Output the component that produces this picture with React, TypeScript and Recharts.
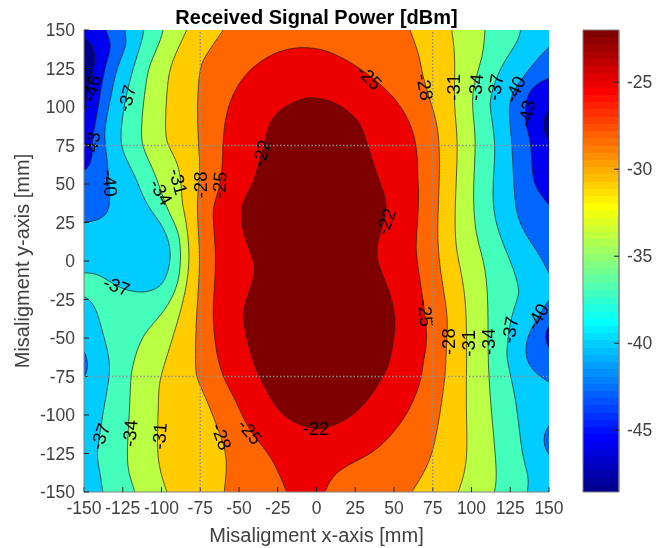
import React from 'react';
import { ComposedChart, Scatter, XAxis, YAxis, ReferenceLine, ReferenceArea, Curve } from 'recharts';

type Pt = [number, number];

const axisTicks = [-150, -125, -100, -75, -50, -25, 0, 25, 50, 75, 100, 125, 150];
const gridLines = [-75, 75];
const colorbarTicks = [-45, -40, -35, -30, -25];
const colorbarMin = -48.55;
const colorbarMax = -22;

// MATLAB jet, bottom of the colorbar to the top
const jetColors = [
	'#00008f', '#00009f', '#0000af', '#0000bf', '#0000cf', '#0000df', '#0000ef', '#0000ff',
	'#0010ff', '#0020ff', '#0030ff', '#0040ff', '#0050ff', '#0060ff', '#0070ff', '#0080ff',
	'#008fff', '#009fff', '#00afff', '#00bfff', '#00cfff', '#00dfff', '#00efff', '#00ffff',
	'#10ffef', '#20ffdf', '#30ffcf', '#40ffbf', '#50ffaf', '#60ff9f', '#70ff8f', '#80ff80',
	'#8fff70', '#9fff60', '#afff50', '#bfff40', '#cfff30', '#dfff20', '#efff10', '#ffff00',
	'#ffef00', '#ffdf00', '#ffcf00', '#ffbf00', '#ffaf00', '#ff9f00', '#ff8f00', '#ff8000',
	'#ff7000', '#ff6000', '#ff5000', '#ff4000', '#ff3000', '#ff2000', '#ff1000', '#ff0000',
	'#ef0000', '#df0000', '#cf0000', '#bf0000', '#af0000', '#9f0000', '#8f0000', '#800000',
];

// contour regions in mm, they run well past the axes and get clipped there
const below43: Pt[] = [[-180, -180], [180, -180], [180, 180], [-180, 180]];
const below46Left: Pt[] = [[-180, 150], [-156, 147], [-150, 145.7], [-143, 139], [-143, 128.4], [-145, 118.6], [-148.7, 104.5], [-150, 94.8], [-156, 94], [-180, 92]];
const below46Right: Pt[] = [[180, 104], [156, 101], [149.8, 99.2], [144.8, 89.4], [149.8, 76.4], [156, 75], [180, 72]];

const above43: Pt[] = [
	[-136, 180], [-136, 156], [-136.4, 150], [-132.1, 141.4], [-134.3, 132.7], [-137.5, 121.9], [-140.7, 100.2], [-144, 82.9], [-145, 74.3], [-145, 63.4], [-150, 58], [-156, 57], [-180, 55],
	[-180, -180], [180, -180], [180, 32], [156, 34], [149.8, 35.7], [144.2, 43.9], [138.8, 52.6], [138.8, 78.6], [134.5, 87.2], [134.5, 106.7], [142, 115.4], [149.8, 118.6], [156, 121], [180, 124], [180, 180],
];
const above40: Pt[] = [
	[-123, 180], [-123, 156], [-124, 150], [-122, 141.4], [-126.7, 130.5], [-130, 120.8], [-132.1, 108.9], [-136.4, 89.4], [-136.9, 78.6], [-134.7, 63.4], [-133.6, 47.2], [-133.2, 37.4], [-135.3, 29.9], [-141.8, 26.2], [-150, 25.1], [-156, 25], [-180, 25],
	[-180, -180], [180, -180], [180, -16], [156, -12], [149.8, -9.1], [146.3, 0.7], [135.6, 15.8], [129.1, 28.8], [127.4, 46.1], [125.9, 82.9], [122.7, 104.6], [133.4, 119.7], [142, 130.5], [149.8, 139.2], [156, 143], [180, 150], [180, 180],
];
const pocketRightUpper: Pt[] = [[180, -20], [156, -22], [149.8, -24.2], [142, -38.3], [135.6, -49.1], [134.5, -62.1], [138.8, -70.8], [149.8, -79], [156, -81], [180, -84]];
const pocketRightDeep: Pt[] = [[180, -38], [156, -39], [149.8, -40.5], [147, -49.1], [149.8, -57.8], [156, -59], [180, -60]];
const pocketRightLower: Pt[] = [[180, -102], [156, -104], [149.8, -105.4], [145.3, -116.2], [149.8, -127], [156, -129], [180, -131]];
const pocketLeft: Pt[] = [[-180, -54], [-156, -55.5], [-150, -56.7], [-147.2, -66.5], [-148.2, -71.9], [-150, -76.2], [-156, -77], [-180, -79]];

const above37: Pt[] = [
	[-111, 180], [-111, 156], [-111.3, 150], [-112.8, 142.4], [-116, 132.7], [-120.3, 117.6], [-123.5, 104.6], [-126.7, 82.9], [-125.7, 72.1], [-119.2, 59.1], [-116, 52.6], [-112.8, 43.9], [-107.4, 33.1], [-100.9, 25.5], [-95.6, 14.7], [-93.8, 3.9], [-95.6, -6.9], [-99.9, -17.1], [-110.6, -20.6], [-118.1, -19.9], [-126.7, -17.7], [-136.4, -11.3], [-142.9, -8], [-150, -7.6], [-156, -7.6], [-180, -7.6],
	[-180, -22], [-156, -22], [-150, -22.1], [-142.9, -28.6], [-139.6, -40.5], [-134.3, -58.9], [-133.2, -70.8], [-134.3, -79.5], [-137.5, -96.8], [-140.7, -118.4], [-141.8, -127.1], [-139.6, -137.9], [-137.9, -149.8], [-137, -156], [-137, -180],
	[135.5, -180], [135.5, -156], [136, -149.8], [137.3, -140], [132.4, -127.1], [129.1, -90.3], [122.7, -64.3], [122.7, -57.8], [124.8, -38.3], [130.2, -23.2], [130.9, -18.8], [127, -3.7], [115.2, 22.3], [113, 46.1], [116.2, 74.3], [111.9, 98.1], [111.9, 106.7], [118.4, 126.2], [130.2, 142.4], [131.7, 150], [132.5, 156], [132.5, 180],
];
const above34: Pt[] = [
	[-98, 180], [-98, 156], [-98.8, 150], [-100.9, 142.4], [-107.4, 128.4], [-110, 117.6], [-113.8, 82.9], [-111.7, 72.1], [-104.2, 57], [-99.9, 43.9], [-95.6, 32], [-89.1, 20.1], [-87.4, 7.1], [-88, -8], [-91.3, -21], [-99.9, -35.1], [-110.6, -45.9], [-116, -57.8], [-119.2, -70.8], [-119.9, -77.3], [-120.7, -98.9], [-122.4, -124.9], [-121.4, -137.9], [-117, -149.8], [-116, -156], [-116, -180],
	[114, -180], [114, -156], [114.7, -149.8], [116.9, -140], [113, -101.1], [110.4, -64.3], [110.9, -38.3], [109.8, -3.7], [102.3, 15.8], [100.7, 46.1], [103.3, 78.6], [100.1, 100.2], [101.2, 115.4], [107.6, 132.7], [108.7, 150], [109, 156], [109, 180],
];
const above31: Pt[] = [
	[-81, 180], [-81, 156], [-83.7, 150], [-93.4, 129.5], [-96.2, 117.6], [-98.1, 82.9], [-95.6, 74.3], [-89.1, 63.4], [-87, 48.3], [-87, 38.5], [-83.7, 24.5], [-81.6, 2.8], [-83.7, -16.7], [-89.1, -38.3], [-99.4, -70.8], [-102, -81.6], [-102, -98.9], [-103.5, -129.2], [-96.6, -149.8], [-94.5, -156], [-94.5, -180],
	[89.5, -180], [89.5, -156], [91.5, -149.8], [97.9, -131.4], [96.4, -96.8], [96.9, -64.3], [96.9, -42.6], [95.8, -21], [92.6, -3.7], [88.9, 13.6], [89.8, 46.1], [91.5, 80.8], [88.3, 100.2], [89.8, 132.7], [87.2, 150], [86.5, 156], [86.5, 180],
];
const above28: Pt[] = [
	[-56, 180], [-56, 156], [-60.1, 150], [-73, 131.6], [-75.6, 124], [-77.3, 98], [-75.6, 67.8], [-75.1, 59.1], [-77.3, 37.4], [-76.2, 20.1], [-75.1, 0.7], [-76.2, -18.8], [-77.7, -38.3], [-78.4, -70.8], [-76.8, -77.3], [-69.8, -92.4], [-63.3, -109.8], [-56.9, -127.1], [-59.6, -149.8], [-60, -156], [-60, -180],
	[58, -180], [58, -156], [61.4, -149.8], [72.1, -133.6], [77.5, -114.1], [82.9, -77.3], [83.5, -64.3], [84, -51.3], [85, -36.1], [80.7, -12.3], [77.5, 13.6], [79.2, 46.1], [79.7, 82.9], [74.3, 101.3], [67.8, 121.9], [66.8, 132.7], [60.3, 150], [58, 156], [58, 180],
];
const above25: Pt[] = [
	[-4.2, 138.5], [-12.8, 138.8], [-25.7, 136], [-38.6, 128.4], [-49.3, 117.6], [-57.9, 100.2], [-60.5, 78.6], [-60.5, 63.4], [-62.2, 48.3], [-66.5, 36.4], [-67, 28.8], [-64.4, 0.7], [-66.5, -23.2], [-67, -40.5], [-63.3, -70.8], [-53.6, -87], [-45, -107.6], [-36.4, -118.4], [-27.8, -129.2], [-19.2, -149.8], [-17, -156], [-17, -180],
	[3, -180], [3, -156], [5.5, -149.8], [9.8, -140], [19.5, -132.5], [36.7, -124.9], [49.6, -111.9], [60.3, -96.8], [67.8, -77.3], [68.9, -64.3], [71.1, -55.6], [71.1, -42.6], [67.8, -18.8], [64.2, 3.9], [64.2, 13.6], [66.3, 39.6], [65.3, 52.6], [65, 80.8], [53.9, 102.4], [41, 115.4], [23.8, 128.4], [6.6, 137],
];
const above22: Pt[] = [
	[-4.2, 106.3], [-8.5, 105.6], [-21.4, 100.2], [-31, 90.5], [-33.6, 74.3], [-36.4, 67.8], [-38.6, 57], [-42.9, 46.1], [-47.2, 39.6], [-48.9, 29.9], [-47.2, 16.9], [-40.3, 0.7], [-39, -9.1], [-47.2, -29.7], [-47.6, -40.5], [-39.6, -70.8], [-32.1, -83.8], [-25.7, -96.8], [-12.8, -106.5], [2.3, -109.8], [8.7, -107.6], [23.8, -101.1], [36.7, -86], [45.3, -70.8], [47.4, -64.3], [52.1, -40.5], [47.4, -18.8], [37.7, 0.7], [39.9, 15.8], [44.2, 26.6], [45.7, 39.6], [39.9, 52.6], [31.3, 80.8], [28.1, 90.5], [17.3, 100.2], [6.6, 105],
];

const labelText = ['-46', '-43', '-40', '-37', '-34', '-31', '-28', '-25', '-22', '-25', '-28', '-31', '-34', '-37', '-40', '-43', '-22', '-25', '-28', '-31', '-34', '-37', '-40', '-37', '-37', '-34', '-31', '-28', '-25', '-22'];
const labelX = [-145, -145, -133.2, -122.4, -100.3, -89.1, -75.1, -62.7, -35.4, 34.1, 70, 88.3, 102.7, 115.2, 128, 135.6, 44.8, 70.4, 85, 98, 110.9, 124.8, 142.5, -128.9, -139.6, -120.3, -101.4, -61.2, -42.9, -0.3];
const labelY = [112, 75.3, 50.4, 105.6, 44.8, 51.5, 49.4, 49.4, 70, 119.3, 113, 112.8, 112.8, 112.8, 111.5, 95.9, 25.5, -34, -52.4, -53.5, -52.4, -44.8, -36.1, -16.2, -114, -111.9, -113.7, -114.1, -110.8, -109];
const labelAngle = [-75, -80, 85, -75, 60, 75, -90, -85, -75, 45, 80, -90, -85, -80, -65, -80, -70, 85, -90, -90, -90, -80, -60, 20, -70, -85, -85, 70, 50, 0];

const regions: { points: Pt[]; color: string }[] = [
	{ points: below43, color: '#0000ee' },
	{ points: below46Left, color: '#000088' },
	{ points: below46Right, color: '#000088' },
	{ points: above43, color: '#0066ff' },
	{ points: above40, color: '#00ccff' },
	{ points: pocketRightUpper, color: '#0066ff' },
	{ points: pocketRightDeep, color: '#0000ee' },
	{ points: pocketRightLower, color: '#0066ff' },
	{ points: pocketLeft, color: '#0066ff' },
	{ points: above37, color: '#44ffbb' },
	{ points: above34, color: '#bbff44' },
	{ points: above31, color: '#ffcc00' },
	{ points: above28, color: '#ff6600' },
	{ points: above25, color: '#ee0000' },
	{ points: above22, color: '#7f0000' },
];

const labels = labelText.map((text, i) => ({ x: labelX[i], y: labelY[i], text, angle: labelAngle[i] }));

const FONT = '"Liberation Sans", Arial, sans-serif';
const TICK_COLOR = '#404040';
const AXIS_COLOR = '#808080';
const W = 662;
const H = 548;
const ON_TOP = 1000;

// the curve rounds every vertex, so the corners outside the axes are tripled to stay sharp
const regionPoints = (points: Pt[]) =>
	points.flatMap(([x, y]) => {
		const p = { x, y };
		return Math.abs(x) === 180 && Math.abs(y) === 180 ? [p, p, p] : [p];
	});

const noMarker = () => <g />;

const regionOutline = (color: string) => (props: any) => (
	<Curve points={props.points} type="basisClosed" fill={color} stroke="#1c1c1c" strokeWidth={0.7} />
);

const contourLabel = (props: any) => {
	const { cx, cy, payload } = props;
	return (
		<text
			x={cx}
			y={cy}
			transform={`rotate(${payload.angle} ${cx} ${cy})`}
			textAnchor="middle"
			dominantBaseline="central"
			fontFamily={FONT}
			fontSize={18.5}
			fill="#000"
		>
			{payload.text}
		</text>
	);
};

export default function App() {
	const tickStyle = { fontFamily: FONT, fontSize: 17.5, fill: TICK_COLOR };
	const bandHeight = (colorbarMax - colorbarMin) / jetColors.length;
	return (
		<div style={{ position: 'absolute', left: 0, top: 0, width: W, height: H, background: '#fff', filter: 'blur(0.4px)' }}>
			<div
				style={{
					position: 'absolute',
					left: 84,
					width: 465,
					top: 6,
					textAlign: 'center',
					fontFamily: FONT,
					fontWeight: 700,
					fontSize: 20,
					lineHeight: '22px',
					color: '#000',
				}}
			>
				Received Signal Power [dBm]
			</div>
			<div style={{ position: 'absolute', left: 0, top: 0 }}>
				<ComposedChart width={W} height={H} margin={{ top: 30, right: 113, bottom: 0, left: 24 }}>
					<XAxis
						xAxisId={0}
						dataKey="x"
						type="number"
						domain={[-150, 150]}
						ticks={axisTicks}
						interval={0}
						allowDataOverflow
						height={56}
						tickSize={-5}
						tickMargin={15}
						tick={tickStyle}
						tickLine={{ stroke: '#222' }}
						axisLine={{ stroke: AXIS_COLOR }}
						zIndex={ON_TOP}
						label={{
							value: 'Misaligment x-axis [mm]',
							position: 'insideBottom',
							offset: 6,
							style: { fontFamily: FONT, fontSize: 20, fill: TICK_COLOR },
						}}
					/>
					<XAxis
						xAxisId="top"
						orientation="top"
						type="number"
						domain={[-150, 150]}
						ticks={axisTicks}
						interval={0}
						height={0}
						tickSize={-5}
						tick={false}
						tickLine={{ stroke: '#222' }}
						axisLine={{ stroke: AXIS_COLOR }}
						zIndex={ON_TOP}
					/>
					<YAxis
						yAxisId={0}
						dataKey="y"
						type="number"
						domain={[-150, 150]}
						ticks={axisTicks}
						interval={0}
						allowDataOverflow
						width={60}
						tickSize={-5}
						tickMargin={14}
						tick={tickStyle}
						tickLine={{ stroke: '#222' }}
						axisLine={{ stroke: AXIS_COLOR }}
						zIndex={ON_TOP}
						label={{
							value: 'Misaligment y-axis [mm]',
							angle: -90,
							position: 'insideLeft',
							offset: -2,
							style: { textAnchor: 'middle', fontFamily: FONT, fontSize: 20, fill: TICK_COLOR },
						}}
					/>
					<YAxis
						yAxisId="right"
						orientation="right"
						type="number"
						domain={[-150, 150]}
						ticks={axisTicks}
						interval={0}
						width={0}
						tickSize={-5}
						tick={false}
						tickLine={{ stroke: '#222' }}
						axisLine={{ stroke: AXIS_COLOR }}
						zIndex={ON_TOP}
					/>
					{regions.map((r, i) => (
						<Scatter
							key={i}
							data={regionPoints(r.points)}
							line={regionOutline(r.color)}
							shape={noMarker}
							legendType="none"
							isAnimationActive={false}
						/>
					))}
					{gridLines.map((v) => (
						<ReferenceLine key={`x${v}`} x={v} stroke="#8f8f8f" strokeDasharray="1.5 2" strokeWidth={1.4} zIndex={ON_TOP} />
					))}
					{gridLines.map((v) => (
						<ReferenceLine key={`y${v}`} y={v} stroke="#8f8f8f" strokeDasharray="1.5 2" strokeWidth={1.4} zIndex={ON_TOP} />
					))}
					<Scatter data={labels} shape={contourLabel} legendType="none" isAnimationActive={false} />
				</ComposedChart>
			</div>
			<div style={{ position: 'absolute', left: 0, top: 0 }}>
				<ComposedChart width={W} height={H} data={[{ x: 0 }, { x: 1 }]} margin={{ top: 30, right: 0, bottom: 56, left: 583 }}>
					<XAxis dataKey="x" type="number" domain={[0, 1]} hide />
					<YAxis
						orientation="right"
						type="number"
						domain={[colorbarMin, colorbarMax]}
						ticks={colorbarTicks}
						interval={0}
						allowDataOverflow
						width={43}
						tickSize={-5}
						tickMargin={13}
						tick={tickStyle}
						tickLine={{ stroke: '#222' }}
						axisLine={{ stroke: AXIS_COLOR }}
						zIndex={ON_TOP}
					/>
					{jetColors.map((c, i) => (
						<ReferenceArea
							key={c}
							x1={0}
							x2={1}
							y1={colorbarMin + i * bandHeight}
							y2={colorbarMin + (i + 1) * bandHeight}
							fill={c}
							fillOpacity={1}
							stroke="none"
							shapeRendering="crispEdges"
							ifOverflow="extendDomain"
						/>
					))}
					<ReferenceArea
						x1={0}
						x2={1}
						y1={colorbarMin}
						y2={colorbarMax}
						fill="none"
						stroke={AXIS_COLOR}
						strokeWidth={1}
					/>
				</ComposedChart>
			</div>
		</div>
	);
}
